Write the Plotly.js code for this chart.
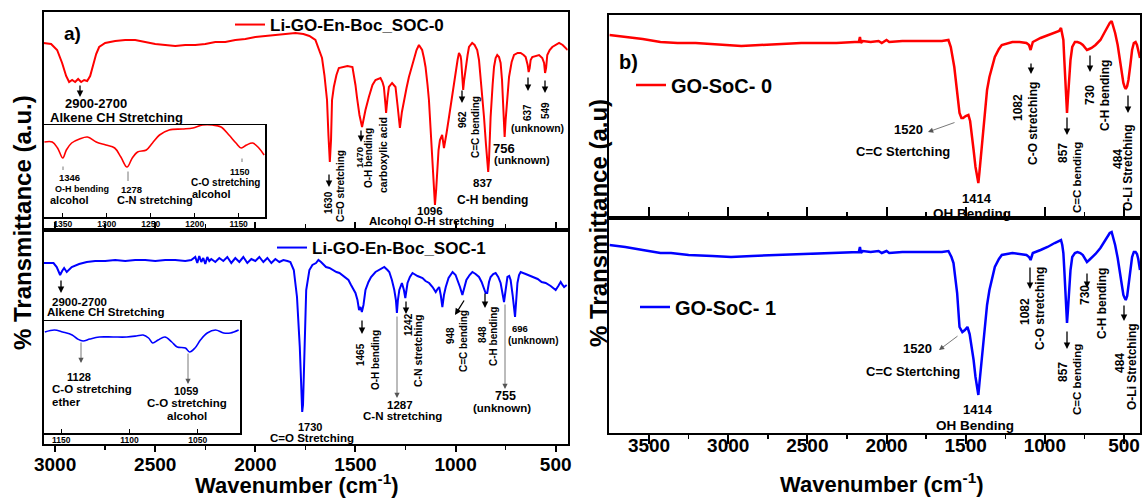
<!DOCTYPE html>
<html>
<head>
<meta charset="utf-8">
<script src="https://cdn.plot.ly/plotly-3.0.1.min.js"></script>
<style>html,body{margin:0;padding:0;background:#fff;}#chart{width:1142px;height:498px;}</style>
</head>
<body>
<div id="chart"></div>
<script>
// ---------- DATA (wavenumber in cm^-1, transmittance in arbitrary units) ----------
// Panel a) top: Li-GO-En-Boc_SOC-0
const soc0_wn = [3058,3020,2990,2965,2945,2930,2915,2900,2885,2870,2855,2840,2825,2810,2795,2780,2750,2700,2650,2600,2550,2500,2450,2400,2350,2300,2250,2200,2150,2100,2050,2000,1950,1900,1850,1800,1760,1730,1700,1685,1667,1655,1642,1635,1628,1622,1617,1608,1595,1583,1560,1540,1515,1510,1500,1492,1480,1467,1458,1450,1433,1415,1400,1375,1365,1358,1350,1347,1340,1333,1317,1300,1290,1278,1268,1258,1245,1233,1220,1208,1195,1183,1167,1158,1150,1140,1133,1125,1117,1108,1103,1097,1092,1085,1078,1067,1058,1050,1045,1035,1025,1012,1000,990,983,975,972,967,962,957,950,940,933,917,905,892,883,875,865,858,848,840,837,833,825,815,808,800,792,783,775,768,760,755,750,742,733,720,708,690,675,660,650,640,635,630,625,617,600,583,567,558,553,548,542,530,517,500,483,465,450,440];
const soc0_T = [187,186,180,167,154,148,150,148,151,148,150,149,154,165,176,183,187,189,190,190,188,186,185,184,185,185,186,188,188,190,191,193,194,195,196,197,196,194,190,182,172,155,130,95,68,90,130,143,155,162,163,164,163,158,145,132,115,103,112,120,133,145,150,152,148,143,125,117,132,143,147,143,125,102,118,130,142,153,163,172,180,185,180,172,163,145,130,102,70,40,25,40,63,80,90,95,82,90,97,110,123,142,160,170,177,174,170,155,140,150,163,175,183,187,185,180,170,153,135,113,85,62,58,70,113,145,163,172,175,173,167,150,115,93,110,135,153,168,175,177,177,175,173,165,158,162,170,173,174,175,172,167,157,162,175,180,183,185,187,185,182,180];

// Panel a) top inset (zoom 1372-1120 cm^-1)
const soc0z_wn = [1371,1362,1356,1350,1346,1340,1331,1322,1312,1301,1291,1284,1277,1271,1265,1255,1248,1240,1229,1214,1202,1191,1180,1170,1161,1153,1147,1141,1134,1127,1121];
const soc0z_T = [75,75,69,59,67,74,78,80,75,72,69,60,50,59,65,67,74,82,87,88,89,92,92,90,82,74,69,72,74,69,62];

// Panel a) bottom: Li-GO-En-Boc_SOC-1
const soc1_wn = [3058,3030,3008,2992,2982,2975,2965,2955,2942,2930,2917,2880,2842,2800,2750,2700,2650,2600,2550,2500,2450,2400,2350,2320,2300,2290,2280,2270,2260,2250,2240,2230,2220,2200,2180,2160,2140,2120,2100,2080,2060,2040,2020,2000,1980,1960,1940,1920,1900,1880,1860,1840,1825,1808,1792,1778,1770,1766,1762,1758,1754,1746,1730,1715,1697,1685,1672,1660,1647,1630,1613,1595,1580,1563,1547,1535,1522,1500,1490,1482,1475,1468,1460,1450,1435,1422,1400,1381,1356,1340,1331,1318,1306,1298,1293,1288,1281,1268,1258,1251,1246,1240,1228,1215,1190,1165,1150,1132,1115,1099,1090,1082,1074,1066,1058,1049,1035,1015,1000,990,978,966,956,946,930,916,900,883,870,858,850,842,833,825,812,800,787,775,766,758,750,741,732,725,715,708,703,697,691,683,675,650,617,590,570,550,525,500,487,475,466,458,445];
const soc1_T = [181,181,181,177,172,169,173,176,172,174,177,180,182,183,183,184,183,184,184,183,184,184,183,184,187,181,188,182,186,180,187,183,185,182,186,183,187,181,186,182,187,181,185,183,187,182,186,181,185,182,184,183,182,174,147,97,54,32,39,74,114,154,174,179,181,184,182,180,177,176,174,172,171,168,166,164,159,151,144,134,137,132,139,154,162,167,172,174,177,174,172,164,154,144,131,144,154,161,154,146,154,161,167,171,168,166,163,161,157,152,155,157,149,137,149,157,166,172,169,164,157,149,156,164,169,172,170,167,162,154,151,151,162,167,170,171,167,161,152,142,154,167,168,164,149,134,127,144,161,169,172,170,167,165,162,161,158,154,158,162,159,157,159];

// Panel a) bottom inset (zoom 1163-1019 cm^-1)
const soc1z_wn = [1162,1155,1149,1142,1138,1134,1129,1122,1112,1102,1095,1090,1086,1083,1079,1074,1069,1065,1059,1056,1052,1048,1043,1037,1031,1026,1020];
const soc1z_T = [101,103,101,98,94,92,94,96,96,96,97,98,95,90,93,96,91,86,85,81,85,93,100,103,100,100,103];

// Panel b) top: GO-SoC- 0
const go0_wn = [3750,3700,3650,3540,3428,3320,3206,3050,2917,2800,2680,2539,2420,2316,2200,2175,2168,2161,2150,2100,2050,2030,2000,1983,1900,1800,1700,1650,1609,1594,1572,1549,1539,1527,1516,1500,1483,1472,1461,1450,1438,1428,1420,1413,1405,1383,1365,1350,1316,1290,1272,1205,1160,1116,1100,1090,1080,1076,1027,938,910,898,890,883,877,871,865,860,855,849,838,827,810,794,776,760,745,734,720,705,680,649,625,605,590,578,567,556,540,527,515,504,496,489,480,472,460,449,438,427,418,410,399];
const go0_T = [183,182,181,179,176,175,175,173,172,173,174,175,175,175,176,176,181,175,177,176,177,175,178,176,177,177,177,177,178,171,151,121,105,100,100,102,103,97,85,68,51,40,35,46,61,101,128,141,161,169,173,176,176,175,173,168,174,176,180,185,187,190,185,178,158,135,118,105,118,135,158,171,176,176,175,173,170,168,169,170,173,178,185,191,195,197,192,185,173,158,146,135,131,129,132,138,153,168,175,176,173,168,160];

// Panel b) bottom: GO-SoC- 1
const go1_wn = [3750,3700,3650,3540,3428,3361,3250,3100,2982,2850,2700,2539,2420,2316,2200,2175,2168,2161,2150,2100,2050,2030,2000,1983,1900,1800,1700,1650,1609,1590,1577,1554,1539,1521,1505,1489,1475,1461,1450,1438,1428,1420,1413,1405,1383,1365,1350,1316,1290,1272,1205,1160,1116,1100,1090,1080,1076,1027,983,938,898,890,883,877,871,865,860,855,849,838,827,810,794,776,760,745,734,720,705,680,649,625,605,590,578,567,556,540,527,515,504,496,489,480,472,460,449,438,427,418,410,399];
const go1_T = [188,187,186,183,180,180,178,177,176,177,178,179,180,180,181,181,186,180,182,181,182,180,182,180,181,181,181,181,182,176,170,140,106,101,103,106,99,86,73,56,45,38,50,63,103,128,143,166,174,178,180,179,178,176,173,178,180,183,186,190,193,188,180,163,140,121,110,121,140,163,176,180,181,180,178,174,171,173,175,179,185,191,196,200,201,195,188,175,160,148,138,135,133,137,146,163,176,181,181,179,174,163];

// Legend names, tick labels, axis titles
const names = ['Li-GO-En-Boc_SOC-0','Li-GO-En-Boc_SOC-1','GO-SoC- 0','GO-SoC- 1'];
const mainTicks = [500,1000,1500,2000,2500,3000,3500];
const minorTicks = [750,1250,1750,2250,2750,3250];
const inset1Ticks = [1150,1200,1250,1300,1350];
const inset2Ticks = [1050,1100,1150];
const xTitle = 'Wavenumber (cm<sup>-1</sup>)';

// ---------- LAYOUT HELPERS ----------
const W = 1142, H = 498;
const X = v => v / W;
const Y = v => 1 - v / H;
const FONT = 'Liberation Sans, Arial, Helvetica, sans-serif';
const RED = '#ff0000', BLUE = '#0000ff';

function lab(text, x, y, size, rot) {
  return {xref:'paper', yref:'paper', x:X(x), y:Y(y), text:text, showarrow:false,
    textangle: rot || 0, xanchor:'center', yanchor:'middle',
    font:{family:FONT, size:size, color:'#000', weight:'bold'}};
}
function arr(x1, y1, x2, y2, style) {
  const grey = style === 'g' || style === 'g0';
  return {xref:'paper', yref:'paper', x:X(x2), y:Y(y2), ax:x1 - x2, ay:y1 - y2,
    axref:'pixel', ayref:'pixel', text:'', showarrow:true,
    arrowhead: style === 'g0' ? 0 : 2, arrowsize: grey ? 1.3 : 1,
    arrowwidth: grey ? 0.8 : 1.3, arrowcolor: grey ? '#555' : '#000', standoff:0, startstandoff:0};
}

const labels = [
  // a) top
  ['a)',72,34,19,0],['2900-2700',96,104,13,0],['Alkene CH Stretching',116,117,13,0],
  ['1346',69,177,9.5,0],['O-H bending',82,189,9,0],['alcohol',69,200,11,0],
  ['1278',131,189,9.5,0],['C-N stretching',155,200,11,0],
  ['1150',240,172,9,0],['C-O stretching',225,182,10,0],['alcohol',211,194,11,0],
  ['1630',329,203,10,-90],['C=O stretching',340,186,10,-90],
  ['1470',360,157,9.5,-90],['O-H bending',369,158,10,-90],['carboxylic acid',383,155,10.5,-90],
  ['1096',430,211,11.5,0],['Alcohol O-H stretching',431,221,11.5,0],
  ['962',462,120,10,-90],['C=C bending',475,127,10,-90],
  ['837',482,183,11.5,0],['C-H bending',492,200,12,0],
  ['756',504,149,13,0],['(unknown)',522,160,11,0],
  ['637',528,113,10,-90],['549',545,111,10,-90],['(unknown)',537,128,10.5,0],
  // a) bottom
  ['2900-2700',79,302,11.5,0],['Alkene CH Stretching',106,312,11.5,0],
  ['1128',79,377,11,0],['C-O stretching',92,389,11.5,0],['ether',66,402,11.5,0],
  ['1059',186,391,11,0],['C-O stretching',187,403,11.5,0],['alcohol',187,416,11.5,0],
  ['1730',310,427,11,0],['C=O Stretching',312,438,11.5,0],
  ['1465',360,354,10,-90],['O-H bending',375,360,10,-90],
  ['1287',400,405,11.5,0],['C-N stretching',402,416,11.5,0],
  ['1242',408,324,10,-90],['C-N stretching',418,351,10.5,-90],
  ['948',450,336,10,-90],['C=C bending',463,341,10,-90],
  ['848',482,335,10,-90],['C-H bending',493,337,10,-90],
  ['755',505,396,12.5,0],['(unknown)',502,408,11.5,0],
  ['696',520,328,9.5,0],['(unknown)',533,340,10,0],
  // b) top
  ['b)',628,62,20,0],['1520',908,129,13,0],['C=C Stertching',903,151,13,0],
  ['1414',977,198,13,0],['OH Bending',972,213,13.5,0],
  ['1082',1018,108,12,-90],['C-O stretching',1033,124,12,-90],
  ['857',1063,153,12,-90],['C=C bending',1077,178,11.5,-90],
  ['730',1090,95,12,-90],['C-H bending',1105,96,12,-90],
  ['484',1118,159,12,-90],['O-Li Stretching',1128,168,12,-90],
  // b) bottom
  ['1520',917,348,13,0],['C=C Stertching',913,371,13,0],
  ['1414',978,409,13,0],['OH Bending',975,425,13.5,0],
  ['1082',1025,312,12,-90],['C-O stretching',1040,309,12,-90],
  ['857',1063,372,12,-90],['C=C bending',1077,380,11.5,-90],
  ['730',1085,295,12,-90],['C-H bending',1102,304,12,-90],
  ['484',1120,363,12,-90],['O-Li Stretching',1132,367,12,-90],
  // axis titles
  ['% Transmittance (a.u.)',22,223,24,-90],['% Transmittance (a.u)',598,223,24,-90],
  [xTitle,297,484,22,0],[xTitle,882,483,22,0]
];
const arrows = [
  [80,84,80,97,'b'],[329,173,329,187,'b'],[361,129,361,142,'b'],[462,89,462,103,'b'],
  [528,76,528,91,'b'],[545,79,545,93,'b'],
  [63,165,63,170,'g0'],[128,170,128,181,'g0'],[242,157,242,162,'g0'],
  [61,279,61,293,'b'],[81,341,81,363,'g'],[188,352,188,384,'g'],
  [362,319,362,334,'b'],[397,315,397,398,'g'],[406,300,406,314,'b'],
  [465,299,455,315,'b'],[485,292,485,308,'b'],[505,303,505,389,'g'],
  [956,122,928,132,'g'],[1031,62,1031,74,'b'],[1067,116,1067,135,'b'],
  [1090,54,1090,72,'b'],[1128,94,1128,113,'b'],
  [959,335,939,350,'g'],[1030,266,1030,289,'b'],[1067,330,1067,349,'b'],
  [1087,272,1087,288,'b'],[1124,304,1124,321,'b']
];

const annotations = labels.map(l => lab(l[0], l[1], l[2], l[3], l[4]))
  .concat(arrows.map(a => arr(a[0], a[1], a[2], a[3], a[4])));

// ---------- TRACES ----------
const traces = [
  {type:'scatter', mode:'lines', x:soc0_wn, y:soc0_T, xaxis:'x', yaxis:'y', name:names[0], legend:'legend',
   line:{color:RED, width:2}},
  {type:'scatter', mode:'lines', x:soc1_wn, y:soc1_T, xaxis:'x', yaxis:'y2', name:names[1], legend:'legend2',
   line:{color:BLUE, width:2}},
  {type:'scatter', mode:'lines', x:soc0z_wn, y:soc0z_T, xaxis:'x3', yaxis:'y3', showlegend:false,
   line:{color:RED, width:1.6, shape:'spline'}},
  {type:'scatter', mode:'lines', x:soc1z_wn, y:soc1z_T, xaxis:'x4', yaxis:'y4', showlegend:false,
   line:{color:BLUE, width:1.6, shape:'spline'}},
  {type:'scatter', mode:'lines', x:go0_wn, y:go0_T, xaxis:'x5', yaxis:'y5', name:names[2], legend:'legend3',
   line:{color:RED, width:2.5}},
  {type:'scatter', mode:'lines', x:go1_wn, y:go1_T, xaxis:'x5', yaxis:'y6', name:names[3], legend:'legend4',
   line:{color:BLUE, width:2.5}}
];

const yBase = {showline:true, linecolor:'#000', linewidth:2, mirror:true, showticklabels:false,
  ticks:'', showgrid:false, zeroline:false, fixedrange:true};
const mainX = (dom, rng, anchor, tlen, stand) => ({
  domain:dom, range:rng, anchor:anchor, autorange:false,
  showline:true, linecolor:'#000', linewidth:2, mirror:'all',
  tickmode:'array', tickvals:mainTicks, ticktext:mainTicks.map(String),
  ticks:'outside', ticklen:tlen, tickwidth:2, tickcolor:'#000', ticklabelstandoff:stand,
  minor:{tickmode:'array', tickvals:minorTicks, ticks:'outside', ticklen:4, tickwidth:1.5, tickcolor:'#000'},
  tickfont:{family:FONT, size:19, color:'#000', weight:'bold'},
  showgrid:false, zeroline:false
});
const insetX = (dom, rng, anchor, ticks) => ({
  domain:dom, range:rng, anchor:anchor, autorange:false,
  showline:true, linecolor:'#000', linewidth:1.5, mirror:true,
  tickmode:'array', tickvals:ticks, ticktext:ticks.map(String),
  ticks:'inside', ticklen:4, tickwidth:1, tickcolor:'#000', ticklabelstandoff:-2,
  tickfont:{family:FONT, size:8.5, color:'#000', weight:'bold'},
  showgrid:false, zeroline:false
});

const legendBase = (x, y, size) => ({x:X(x), y:Y(y), xanchor:'left', yanchor:'middle',
  bgcolor:'rgba(0,0,0,0)', borderwidth:0, font:{family:FONT, size:size, color:'#000', weight:'bold'}});

const layout = {
  width:W, height:H, margin:{l:0, r:0, t:0, b:0, autoexpand:false},
  paper_bgcolor:'#fff', plot_bgcolor:'rgba(0,0,0,0)',
  font:{family:FONT, color:'#000'},
  showlegend:true,
  xaxis: mainX([X(43.5), X(567.7)], [3058, 440], 'y2', 6, -4),
  yaxis: Object.assign({}, yBase, {domain:[Y(230), Y(12)], anchor:'x', range:[0,218]}),
  yaxis2: Object.assign({}, yBase, {domain:[Y(444), Y(230)], anchor:'x', range:[0,214]}),
  xaxis3: insetX([X(43.5), X(265)], [1372, 1120], 'y3', inset1Ticks),
  yaxis3: Object.assign({}, yBase, {domain:[Y(217), Y(125)], anchor:'x3', range:[0,92], linewidth:1.5}),
  xaxis4: insetX([X(43.5), X(240)], [1163, 1019], 'y4', inset2Ticks),
  yaxis4: Object.assign({}, yBase, {domain:[Y(433), Y(321)], anchor:'x4', range:[0,112], linewidth:1.5}),
  xaxis5: mainX([X(609.3), X(1140)], [3751, 399], 'y6', 9, -15),
  yaxis5: Object.assign({}, yBase, {domain:[Y(218), Y(15)], anchor:'x5', range:[0,203]}),
  yaxis6: Object.assign({}, yBase, {domain:[Y(433), Y(218)], anchor:'x5', range:[0,215]}),
  legend: legendBase(230, 25, 17),
  legend2: legendBase(272, 248, 17),
  legend3: legendBase(631, 85, 20),
  legend4: legendBase(635, 307, 20),
  annotations: annotations
};

Plotly.newPlot('chart', traces, layout, {displayModeBar:false, staticPlot:true});
</script>
</body>
</html>
